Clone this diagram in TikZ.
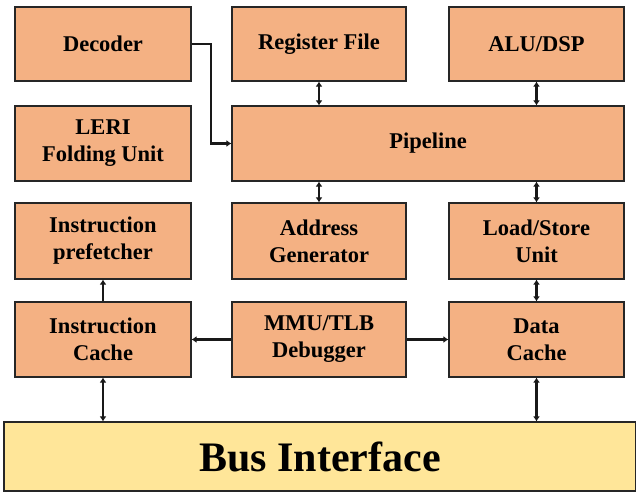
\documentclass[tikz,border=0pt]{standalone}
\usepackage{fontspec}
\setmainfont{Liberation Serif}
\usetikzlibrary{arrows.meta}
\definecolor{boxfill}{HTML}{F4B183}
\definecolor{busfill}{HTML}{FFE699}
\tikzset{
  blk/.style={draw=black!85, line width=1.2bp, fill=boxfill, rectangle, inner sep=0pt,
    align=center, font=\fontsize{22.5bp}{27bp}\selectfont\bfseries},
  conn/.style={line width=2.6bp, black!90},
  tip/.style={-{Latex[length=5bp,width=7bp]}},
  dtip/.style={{Latex[length=5bp,width=7bp]}-{Latex[length=5bp,width=7bp]}}
}
\begin{document}
\begin{tikzpicture}[x=1bp,y=-1bp]
\useasboundingbox (0,0) rectangle (636,493);
% row 1
\node[blk, minimum width=176bp, minimum height=74bp] (dec) at (103,44) {Decoder};
\node[blk, minimum width=174bp, minimum height=74bp] (rf) at (319,44) {Register File};
\node[blk, minimum width=175bp, minimum height=74bp] (alu) at (536.5,44) {ALU/DSP};
% row 2
\node[blk, minimum width=176bp, minimum height=75bp] (leri) at (103,143.5) {LERI\\Folding Unit};
\node[blk, minimum width=392bp, minimum height=75bp] (pipe) at (428,143.5) {Pipeline};
% row 3
\node[blk, minimum width=176bp, minimum height=76bp] (pref) at (103,241) {Instruction\\prefetcher};
\node[blk, minimum width=174bp, minimum height=76bp] (agen) at (319,241) {Address\\Generator};
\node[blk, minimum width=175bp, minimum height=76bp] (ls) at (536.5,241) {Load/Store\\Unit};
% row 4
\node[blk, minimum width=176bp, minimum height=75bp] (ic) at (103,339.5) {Instruction\\Cache};
\node[blk, minimum width=174bp, minimum height=75bp] (mmu) at (319,339.5) {MMU/TLB\\Debugger};
\node[blk, minimum width=175bp, minimum height=75bp] (dc) at (536.5,339.5) {Data\\Cache};
% bus
\node[draw=black!85, line width=1.2bp, fill=busfill, minimum width=632bp, minimum height=69bp,
  inner sep=0pt, font=\fontsize{42bp}{50bp}\selectfont\bfseries] (bus) at (320,456.5) {Bus Interface};
% connectors
\coordinate (bend) at (211,44);
\draw[conn, tip] (dec.east) -- (bend) |- (pipe.west);
\draw[conn, dtip] (rf.south) -- (rf.south |- pipe.north);
\draw[conn, dtip] (alu.south) -- (alu.south |- pipe.north);
\draw[conn, dtip] (agen.north) -- (agen.north |- pipe.south);
\draw[conn, dtip] (ls.north) -- (ls.north |- pipe.south);
\draw[conn, tip] (ic.north) -- (pref.south);
\draw[conn, dtip] (ls.south) -- (dc.north);
\draw[conn, tip] (mmu.west) -- (ic.east);
\draw[conn, tip] (mmu.east) -- (dc.west);
\draw[conn, dtip] (ic.south) -- (ic.south |- bus.north);
\draw[conn, dtip] (dc.south) -- (dc.south |- bus.north);
\end{tikzpicture}
\end{document}
